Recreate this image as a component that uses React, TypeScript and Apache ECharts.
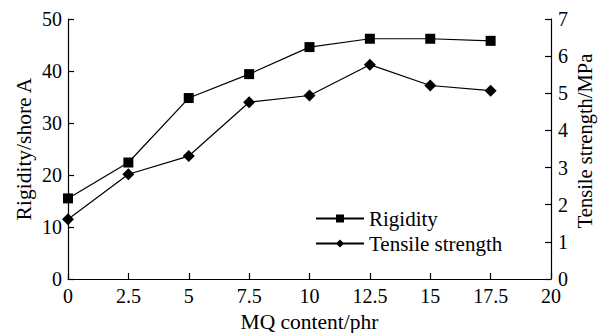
import React, { useEffect, useRef } from "react";
import * as echarts from "echarts";

const mqContent = [0, 2.5, 5, 7.5, 10, 12.5, 15, 17.5];
const rigidity = [15.5, 22.4, 34.8, 39.4, 44.6, 46.2, 46.2, 45.8];
const tensileStrength = [1.61, 2.82, 3.31, 4.76, 4.94, 5.77, 5.21, 5.07];

const FONT = "'Liberation Serif', 'Times New Roman', serif";

export default function App() {
  const ref = useRef<HTMLDivElement>(null);
  useEffect(() => {
    if (!ref.current) return;
    const chart = echarts.init(ref.current, undefined, { renderer: "svg" });
    const axisLine = { show: true, lineStyle: { color: "#000", width: 1.2 } };
    const axisTick = { show: true, inside: true, length: 6, lineStyle: { color: "#000", width: 1.2 } };
    const axisLabel = { color: "#000", fontFamily: FONT, fontSize: 20 };
    const nameStyle = { color: "#000", fontFamily: FONT, fontSize: 21.5 };
    chart.setOption({
      animation: false,
      backgroundColor: "#fff",
      grid: {
        left: 68,
        right: 48,
        top: 19,
        bottom: 54,
        containLabel: false,
        outerBoundsMode: "none",
      },
      legend: {
        orient: "vertical",
        left: 310,
        top: 203,
        padding: 5,
        itemWidth: 48,
        itemHeight: 10,
        itemGap: 4,
        textStyle: { color: "#000", fontFamily: FONT, fontSize: 21 },
        data: ["Rigidity", "Tensile strength"],
      },
      graphic: [
        {
          type: "text",
          x: 24,
          y: 149,
          rotation: Math.PI / 2,
          style: {
            text: "Rigidity/shore A",
            fill: "#000",
            font: `21.5px 'Liberation Serif', 'Times New Roman', serif`,
            textAlign: "center",
            textVerticalAlign: "middle",
          },
        },
        {
          type: "text",
          x: 585,
          y: 141,
          rotation: Math.PI / 2,
          style: {
            text: "Tensile strength/MPa",
            fill: "#000",
            font: `20.5px 'Liberation Serif', 'Times New Roman', serif`,
            textAlign: "center",
            textVerticalAlign: "middle",
          },
        },
      ],
      xAxis: {
        type: "value",
        min: 0,
        max: 20,
        interval: 2.5,
        name: "MQ content/phr",
        nameLocation: "middle",
        nameGap: 32,
        nameTextStyle: nameStyle,
        axisLine,
        axisTick,
        axisLabel: { ...axisLabel, margin: 7 },
        splitLine: { show: false },
      },
      yAxis: [
        {
          type: "value",
          min: 0,
          max: 50,
          interval: 10,
          axisLine,
          axisTick,
          axisLabel: { ...axisLabel, margin: 6 },
          splitLine: { show: false },
        },
        {
          type: "value",
          min: 0,
          max: 7,
          interval: 1,
          position: "right",
          axisLine,
          axisTick,
          axisLabel: { ...axisLabel, margin: 7 },
          splitLine: { show: false },
        },
      ],
      series: [
        {
          name: "Rigidity",
          type: "line",
          yAxisIndex: 0,
          data: mqContent.map((x, i) => [x, rigidity[i]]),
          symbol: "rect",
          symbolSize: 10,
          itemStyle: { color: "#000" },
          lineStyle: { color: "#000", width: 1.2 },
        },
        {
          name: "Tensile strength",
          type: "line",
          yAxisIndex: 1,
          data: mqContent.map((x, i) => [x, tensileStrength[i]]),
          symbol: "diamond",
          symbolSize: 12,
          itemStyle: { color: "#000" },
          lineStyle: { color: "#000", width: 1.2 },
        },
      ],
    });
    return () => chart.dispose();
  }, []);
  return <div ref={ref} style={{ width: 599, height: 333, position: "absolute", left: 0, top: 0 }} />;
}
